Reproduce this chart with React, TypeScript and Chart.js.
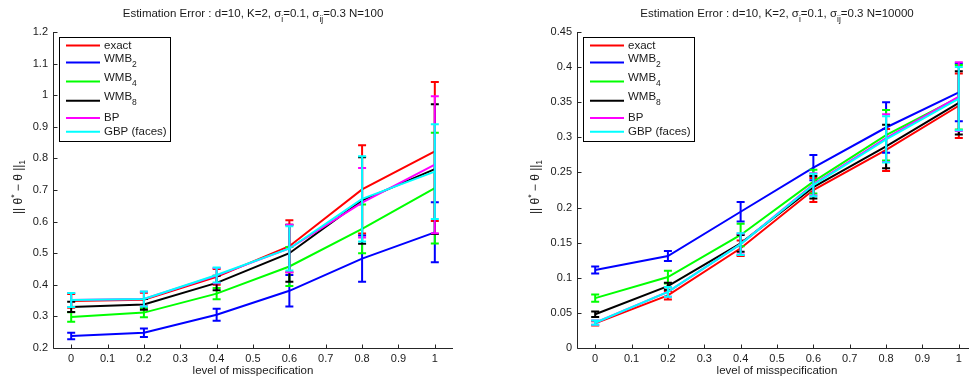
import React, { useEffect, useRef } from "react";
import { Chart, registerables } from "chart.js";

Chart.register(...registerables);

const FONT = '"Liberation Sans", Arial, Helvetica, sans-serif';
const TEXT = "#1a1a1a";
const AXIS = "#262626";

// ---------- shared data ----------
const misspecLevels = [0, 0.2, 0.4, 0.6, 0.8, 1];
const xTicks = [0, 0.1, 0.2, 0.3, 0.4, 0.5, 0.6, 0.7, 0.8, 0.9, 1];
const xTickLabels = ["0", "0.1", "0.2", "0.3", "0.4", "0.5", "0.6", "0.7", "0.8", "0.9", "1"];

const seriesLabels = ["exact", "WMB", "WMB", "WMB", "BP", "GBP (faces)"];
const seriesSubscripts = ["", "2", "4", "8", "", ""];
const seriesColors = ["#ff0000", "#0000ff", "#00ff00", "#000000", "#ff00ff", "#00ffff"];

// ---------- N = 100 panel ----------
const n100Exact = [0.349, 0.353, 0.425, 0.522, 0.702, 0.822];
const n100ExactErr = [0.022, 0.022, 0.025, 0.082, 0.140, 0.220];
const n100Wmb2 = [0.238, 0.248, 0.305, 0.381, 0.483, 0.566];
const n100Wmb2Err = [0.0105, 0.0135, 0.019, 0.050, 0.073, 0.095];
const n100Wmb4 = [0.298, 0.312, 0.372, 0.458, 0.577, 0.706];
const n100Wmb4Err = [0.015, 0.0145, 0.0175, 0.062, 0.077, 0.175];
const n100Wmb8 = [0.330, 0.338, 0.406, 0.500, 0.667, 0.766];
const n100Wmb8Err = [0.016, 0.017, 0.023, 0.090, 0.137, 0.205];
const n100Bp = [0.352, 0.355, 0.429, 0.515, 0.660, 0.780];
const n100BpErr = [0.022, 0.023, 0.024, 0.075, 0.110, 0.217];
const n100Gbp = [0.352, 0.355, 0.431, 0.515, 0.672, 0.758];
const n100GbpErr = [0.022, 0.024, 0.024, 0.070, 0.135, 0.150];
const n100YTicks = [0.2, 0.3, 0.4, 0.5, 0.6, 0.7, 0.8, 0.9, 1, 1.1, 1.2];
const n100YTickLabels = ["0.2", "0.3", "0.4", "0.5", "0.6", "0.7", "0.8", "0.9", "1", "1.1", "1.2"];

// ---------- N = 10000 panel ----------
const n10000Exact = [0.035, 0.075, 0.142, 0.225, 0.282, 0.345];
const n10000ExactErr = [0.003, 0.006, 0.011, 0.017, 0.030, 0.046];
const n10000Wmb2 = [0.111, 0.131, 0.194, 0.257, 0.314, 0.364];
const n10000Wmb2Err = [0.005, 0.007, 0.014, 0.018, 0.036, 0.041];
const n10000Wmb4 = [0.071, 0.101, 0.161, 0.237, 0.303, 0.357];
const n10000Wmb4Err = [0.0053, 0.009, 0.016, 0.017, 0.036, 0.046];
const n10000Wmb8 = [0.048, 0.088, 0.149, 0.229, 0.287, 0.349];
const n10000Wmb8Err = [0.004, 0.005, 0.012, 0.016, 0.031, 0.045];
const n10000Bp = [0.036, 0.080, 0.148, 0.233, 0.299, 0.358];
const n10000BpErr = [0.003, 0.007, 0.015, 0.016, 0.034, 0.049];
const n10000Gbp = [0.036, 0.080, 0.148, 0.232, 0.297, 0.355];
const n10000GbpErr = [0.003, 0.007, 0.0155, 0.016, 0.033, 0.045];
const n10000YTicks = [0, 0.05, 0.1, 0.15, 0.2, 0.25, 0.3, 0.35, 0.4, 0.45];
const n10000YTickLabels = ["0", "0.05", "0.1", "0.15", "0.2", "0.25", "0.3", "0.35", "0.4", "0.45"];

type Part = { t: string; s?: "sub" | "sup" };

interface Panel {
  left: number;
  width: number;
  yAxisWidth: number;
  padRight: number;
  yMin: number;
  yMax: number;
  yTicks: number[];
  yTickLabels: string[];
  values: number[][];
  errors: number[][];
  nLabel: string;
  legendLeft: number;
  ylabelX: number;
}

const panels: Panel[] = [
  {
    left: 0,
    width: 484,
    yAxisWidth: 53,
    padRight: 31,
    yMin: 0.2,
    yMax: 1.2,
    yTicks: n100YTicks,
    yTickLabels: n100YTickLabels,
    values: [n100Exact, n100Wmb2, n100Wmb4, n100Wmb8, n100Bp, n100Gbp],
    errors: [n100ExactErr, n100Wmb2Err, n100Wmb4Err, n100Wmb8Err, n100BpErr, n100GbpErr],
    nLabel: "N=100",
    legendLeft: 59,
    ylabelX: 18.5,
  },
  {
    left: 484,
    width: 500,
    yAxisWidth: 93,
    padRight: 7,
    yMin: 0,
    yMax: 0.45,
    yTicks: n10000YTicks,
    yTickLabels: n10000YTickLabels,
    values: [n10000Exact, n10000Wmb2, n10000Wmb4, n10000Wmb8, n10000Bp, n10000Gbp],
    errors: [n10000ExactErr, n10000Wmb2Err, n10000Wmb4Err, n10000Wmb8Err, n10000BpErr, n10000GbpErr],
    nLabel: "N=10000",
    legendLeft: 99,
    ylabelX: 51.5,
  },
];

function richWidth(ctx: CanvasRenderingContext2D, parts: Part[], size: number, subSize: number) {
  let w = 0;
  for (const p of parts) {
    ctx.font = `${p.s ? subSize : size}px ${FONT}`;
    w += ctx.measureText(p.t).width;
  }
  return w;
}

function drawRich(
  ctx: CanvasRenderingContext2D,
  parts: Part[],
  x: number,
  y: number,
  size: number,
  subSize: number,
  subOff: number,
  supOff: number
) {
  let cx = x;
  ctx.textBaseline = "middle";
  ctx.textAlign = "left";
  for (const p of parts) {
    ctx.font = `${p.s ? subSize : size}px ${FONT}`;
    const dy = p.s === "sub" ? subOff : p.s === "sup" ? -supOff : 0;
    ctx.fillText(p.t, cx, y + dy);
    cx += ctx.measureText(p.t).width;
  }
}

const legendLineYs = [45.5, 62.5, 81.5, 100.8, 118, 131.8];

function makePlugin(panel: Panel) {
  return {
    id: "matlabDecor",
    afterDatasetDraw(chart: any, args: any) {
      const ds = chart.data.datasets[args.index];
      const errs: number[] = ds.errors;
      const xs = chart.scales.x;
      const ys = chart.scales.y;
      const ctx: CanvasRenderingContext2D = chart.ctx;
      ctx.save();
      ctx.strokeStyle = ds.borderColor;
      ctx.lineWidth = 2;
      ds.data.forEach((p: any, j: number) => {
        const px = xs.getPixelForValue(p.x);
        const yTop = ys.getPixelForValue(p.y + errs[j]);
        const yBot = ys.getPixelForValue(p.y - errs[j]);
        ctx.beginPath();
        ctx.moveTo(px, yTop);
        ctx.lineTo(px, yBot);
        ctx.moveTo(px - 4, yTop);
        ctx.lineTo(px + 4, yTop);
        ctx.moveTo(px - 4, yBot);
        ctx.lineTo(px + 4, yBot);
        ctx.stroke();
      });
      ctx.restore();
    },
    afterDraw(chart: any) {
      const ctx: CanvasRenderingContext2D = chart.ctx;
      const area = chart.chartArea;
      const xs = chart.scales.x;
      const ys = chart.scales.y;
      ctx.save();
      // axes
      ctx.strokeStyle = AXIS;
      ctx.lineWidth = 1;
      ctx.beginPath();
      const ax = Math.round(area.left) + 0.5;
      const ay = Math.round(area.bottom) + 0.5;
      ctx.moveTo(ax, Math.round(area.top));
      ctx.lineTo(ax, ay);
      ctx.lineTo(Math.round(area.right), ay);
      // inward ticks
      for (const v of xTicks) {
        const px = Math.round(xs.getPixelForValue(v)) + 0.5;
        ctx.moveTo(px, ay);
        ctx.lineTo(px, ay - 4);
      }
      for (const v of panel.yTicks) {
        const py = Math.round(ys.getPixelForValue(v)) + 0.5;
        ctx.moveTo(ax, py);
        ctx.lineTo(ax + 4, py);
      }
      ctx.stroke();

      ctx.fillStyle = TEXT;
      // title
      const titleParts: Part[] = [
        { t: "Estimation Error : d=10, K=2, σ" },
        { t: "i", s: "sub" },
        { t: "=0.1, σ" },
        { t: "ij", s: "sub" },
        { t: "=0.3 " + panel.nLabel },
      ];
      const tw = richWidth(ctx, titleParts, 11.5, 8.5);
      const cx = (area.left + area.right) / 2;
      drawRich(ctx, titleParts, cx - tw / 2, 13.5, 11.5, 8.5, 6, 0);

      // x label
      ctx.font = `11.5px ${FONT}`;
      ctx.textAlign = "center";
      ctx.textBaseline = "middle";
      ctx.fillText("level of misspecification", cx, 371);

      // y label
      const yParts: Part[] = [
        { t: "|| θ" },
        { t: "*", s: "sup" },
        { t: " − θ ||" },
        { t: "1", s: "sub" },
      ];
      const yw = richWidth(ctx, yParts, 12, 8.5);
      ctx.save();
      ctx.translate(panel.ylabelX, 187);
      ctx.rotate(-Math.PI / 2);
      drawRich(ctx, yParts, -yw / 2, 0, 12, 8.5, 4.5, 3.5);
      ctx.restore();

      // legend
      const L = panel.legendLeft;
      ctx.fillStyle = "#ffffff";
      ctx.fillRect(L, 37, 111, 104);
      ctx.strokeStyle = "#000000";
      ctx.lineWidth = 1;
      ctx.strokeRect(L + 0.5, 37.5, 111, 104);
      seriesLabels.forEach((name, i) => {
        const ly = legendLineYs[i];
        ctx.strokeStyle = seriesColors[i];
        ctx.lineWidth = 2;
        ctx.beginPath();
        ctx.moveTo(L + 7, ly);
        ctx.lineTo(L + 41, ly);
        ctx.stroke();
        ctx.fillStyle = TEXT;
        const sub = seriesSubscripts[i];
        if (sub) {
          drawRich(ctx, [{ t: name }, { t: sub, s: "sub" }], L + 45, ly - 4, 11.5, 8.5, 6.3, 0);
        } else {
          drawRich(ctx, [{ t: name }], L + 45, ly, 11.5, 8.5, 0, 0);
        }
      });
      ctx.restore();
    },
  };
}

function makeConfig(panel: Panel): any {
  return {
    type: "line",
    data: {
      datasets: panel.values.map((vals, i) => ({
        label: seriesLabels[i] + seriesSubscripts[i],
        data: misspecLevels.map((x, j) => ({ x, y: vals[j] })),
        errors: panel.errors[i],
        borderColor: seriesColors[i],
        backgroundColor: seriesColors[i],
        borderWidth: 2,
        pointRadius: 0,
        pointHoverRadius: 0,
        fill: false,
        tension: 0,
        order: 5 - i,
      })),
    },
    options: {
      animation: false,
      responsive: false,
      maintainAspectRatio: false,
      events: [],
      layout: { padding: { left: 0, top: 32, right: panel.padRight, bottom: 0 } },
      plugins: {
        legend: { display: false },
        tooltip: { enabled: false },
        title: { display: false },
      },
      scales: {
        x: {
          type: "linear",
          min: -0.05,
          max: 1.05,
          afterBuildTicks: (axis: any) => {
            axis.ticks = xTicks.map((v) => ({ value: v }));
          },
          afterFit: (axis: any) => {
            axis.height = 33;
          },
          ticks: {
            autoSkip: false,
            maxRotation: 0,
            padding: 4,
            color: TEXT,
            font: { family: FONT, size: 11 },
            callback: (_v: any, idx: number) => xTickLabels[idx],
          },
          grid: { display: false, drawTicks: false },
          border: { display: false },
        },
        y: {
          type: "linear",
          min: panel.yMin,
          max: panel.yMax,
          afterBuildTicks: (axis: any) => {
            axis.ticks = panel.yTicks.map((v) => ({ value: v }));
          },
          afterFit: (axis: any) => {
            axis.width = panel.yAxisWidth;
          },
          ticks: {
            autoSkip: false,
            padding: 5,
            color: TEXT,
            font: { family: FONT, size: 11 },
            callback: (_v: any, idx: number) => panel.yTickLabels[idx],
          },
          grid: { display: false, drawTicks: false },
          border: { display: false },
        },
      },
    },
    plugins: [makePlugin(panel)],
  };
}

function PanelChart({ panel }: { panel: Panel }) {
  const ref = useRef<HTMLCanvasElement | null>(null);
  useEffect(() => {
    if (!ref.current) return;
    const chart = new Chart(ref.current, makeConfig(panel));
    return () => chart.destroy();
  }, [panel]);
  return (
    <div style={{ position: "absolute", left: panel.left, top: 0, width: panel.width, height: 381 }}>
      <canvas ref={ref} width={panel.width} height={381} style={{ display: "block", width: panel.width, height: 381 }} />
    </div>
  );
}

export default function App() {
  return (
    <div
      style={{
        position: "fixed",
        left: 0,
        top: 0,
        width: 969,
        height: 381,
        overflow: "hidden",
        background: "#ffffff",
      }}
    >
      {panels.map((p, i) => (
        <PanelChart key={i} panel={p} />
      ))}
    </div>
  );
}
